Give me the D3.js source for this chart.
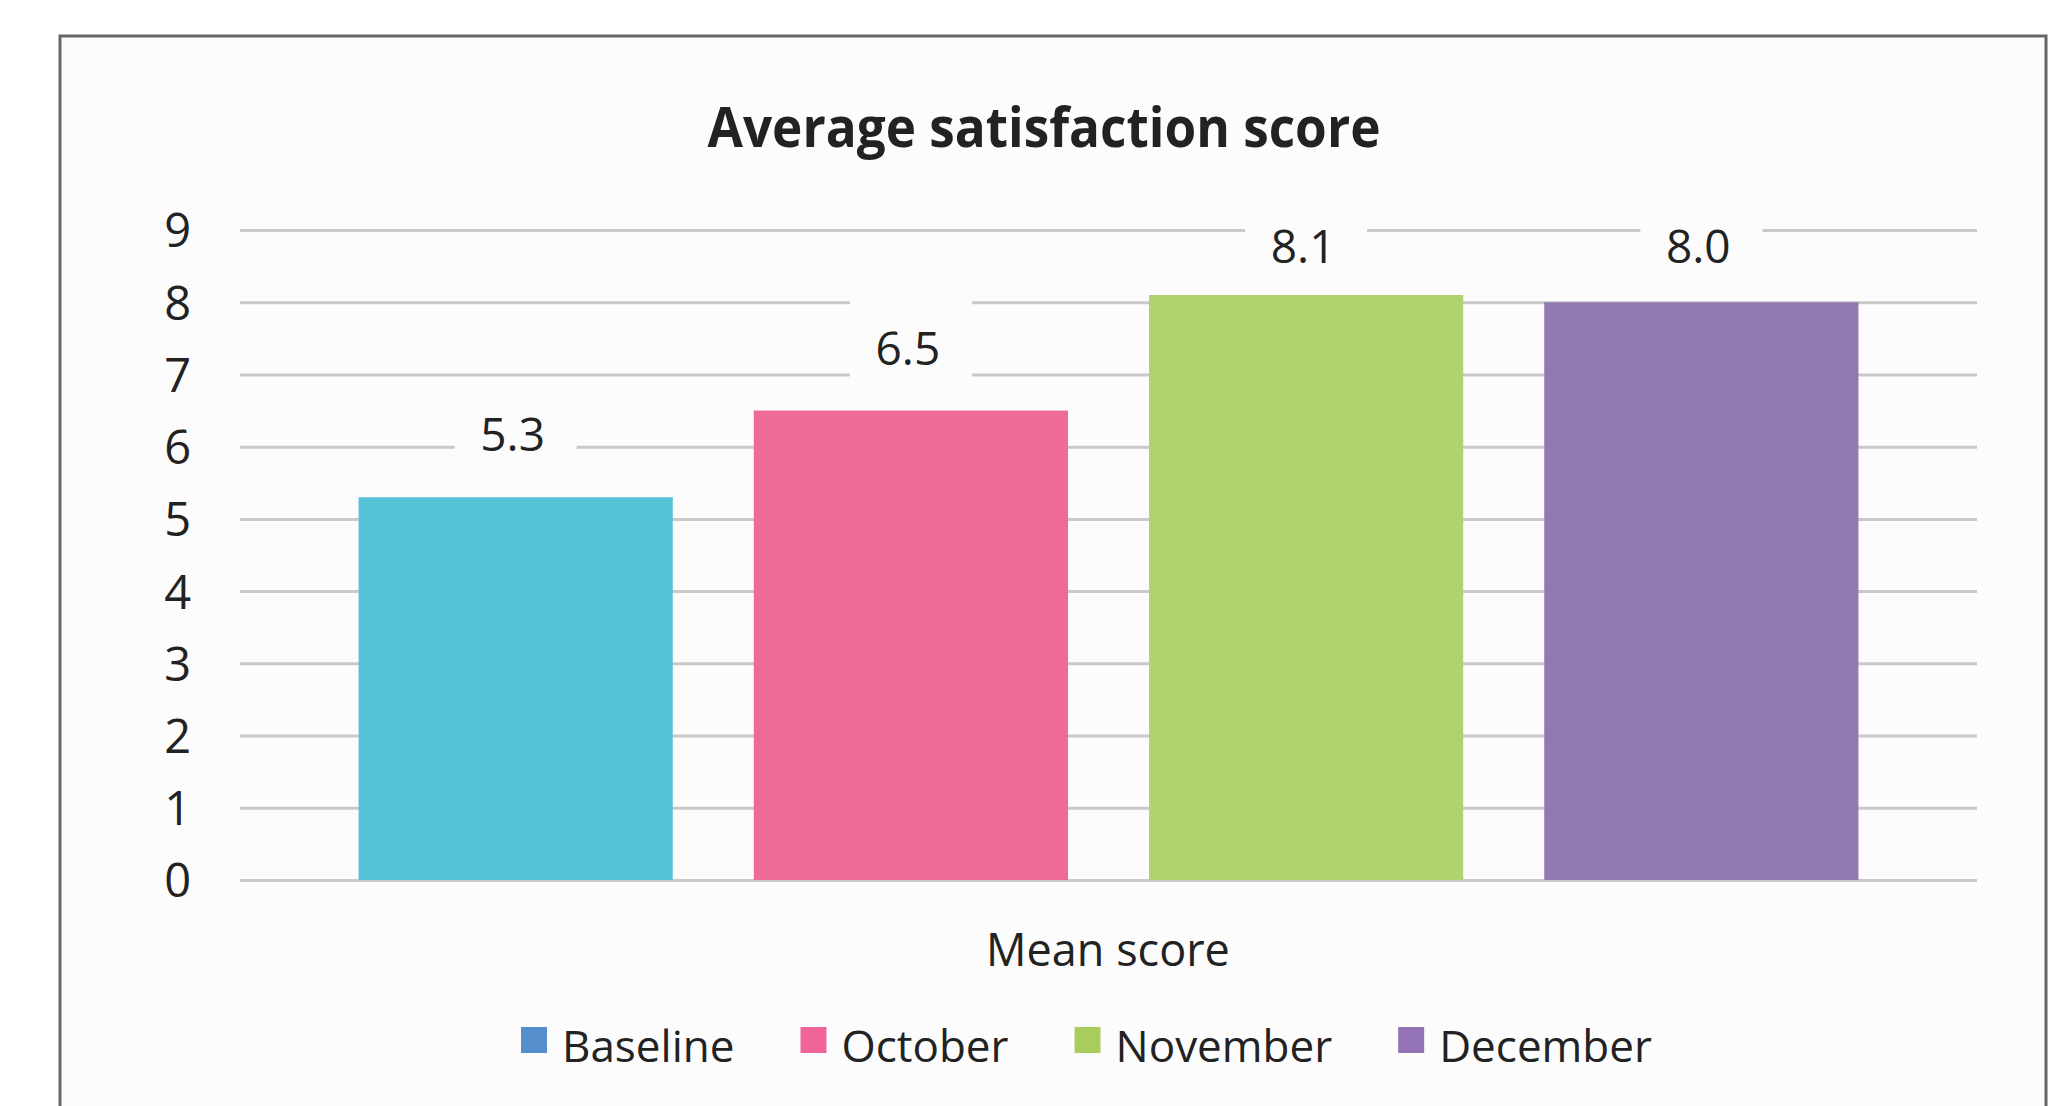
<!DOCTYPE html>
<html>
<head>
<meta charset="utf-8">
<script src="https://cdn.jsdelivr.net/npm/d3@7"></script>
<style>
  html, body { margin: 0; padding: 0; background: #ffffff; }
  svg { display: block; }
  text { font-family: "Open Sans", "Noto Sans", sans-serif; fill: #222222; }
</style>
</head>
<body>
<svg id="chart" width="2056" height="1106"></svg>
<script>
// data
var categories = ['Baseline', 'October', 'November', 'December'];
var scores = [5.3, 6.5, 8.1, 8.0];
var yTicks = [0, 1, 2, 3, 4, 5, 6, 7, 8, 9];
var barColors = ['#56c3d8', '#ee6a98', '#b1d36f', '#9279b0'];
var legendColors = ['#5690cc', '#f0649a', '#a9cc5e', '#9273b6'];

var chartTitle = 'Average satisfaction score';
var axisTitle = 'Mean score';

var bg = '#fcfcfc';

var svg = d3.select('#chart');

/**
 * Frame
 */
svg.append('rect')
  .attr('x', 60)
  .attr('y', 36)
  .attr('width', 1986)
  .attr('height', 1100)
  .attr('fill', bg)
  .attr('stroke', '#666666')
  .attr('stroke-width', 3);

var plot = { left: 240, right: 1977, top: 230, bottom: 880 };

var x = d3.scaleBand()
  .domain(categories)
  .range([plot.left, plot.right])
  .paddingInner(0.205)
  .paddingOuter(0.3);

var y = d3.scaleLinear()
  .domain([0, 9])
  .range([plot.bottom, plot.top]);

// title
svg.append('text')
  .attr('x', 1044)
  .attr('y', 147)
  .attr('text-anchor', 'middle')
  .style('font-size', '55px')
  .style('font-weight', 700)
  .attr('textLength', 673)
  .attr('lengthAdjust', 'spacingAndGlyphs')
  .text(chartTitle);

/**
 * Gridlines + y labels
 */
var yAxis = d3.axisLeft(y)
  .tickValues(yTicks)
  .tickSize(-(plot.right - plot.left))
  .tickPadding(49)
  .tickFormat(d3.format('d'));

var yAxisG = svg.append('g')
  .attr('transform', 'translate(' + plot.left + ',0)')
  .call(yAxis);

yAxisG.select('.domain').remove();
yAxisG.selectAll('.tick line')
  .attr('stroke', '#c9c9c9')
  .attr('stroke-width', 3);
yAxisG.selectAll('.tick text')
  .attr('dy', '0.36em')
  .style('font-size', '47px')
  .style('font-family', '"Open Sans", sans-serif')
  .attr('fill', '#222222');

/**
 * Bars
 */
svg.append('g')
  .selectAll('rect')
  .data(scores)
  .enter()
  .append('rect')
  .attr('x', function (d, i) { return x(categories[i]); })
  .attr('width', x.bandwidth())
  .attr('y', function (d) { return y(d); })
  .attr('height', function (d) { return y(0) - y(d); })
  .attr('fill', function (d, i) { return barColors[i]; });

// data labels, pushed down when they would leave the plot
function labelBaseline(d) {
  return Math.max(y(d) - 46, y(9) + 33);
}

var labels = svg.append('g')
  .selectAll('g')
  .data(scores)
  .enter()
  .append('g');

// label background only hides the gridlines behind it
labels.append('rect')
  .attr('x', function (d, i) { return x(categories[i]) + x.bandwidth() / 2 - 61; })
  .attr('y', function (d) { return labelBaseline(d) - 64; })
  .attr('width', 122)
  .attr('height', 88)
  .attr('fill', bg);

labels.append('text')
  .attr('x', function (d, i) { return x(categories[i]) + x.bandwidth() / 2 - 3; })
  .attr('y', labelBaseline)
  .attr('text-anchor', 'middle')
  .style('font-size', '46px')
  .text(function (d) { return d3.format('.1f')(d); });

// x axis title
svg.append('text')
  .attr('x', 1108)
  .attr('y', 966)
  .attr('text-anchor', 'middle')
  .style('font-size', '45px')
  .text(axisTitle);

/**
 * Legend
 */
var legend = svg.append('g').attr('transform', 'translate(521,0)');
var cursor = 0;

categories.forEach(function (name, i) {
  var item = legend.append('g').attr('transform', 'translate(' + cursor + ',0)');
  item.append('rect')
    .attr('x', 0)
    .attr('y', 1027)
    .attr('width', 26)
    .attr('height', 26)
    .attr('fill', legendColors[i]);
  var t = item.append('text')
    .attr('x', 41)
    .attr('y', 1062)
    .style('font-size', '44px')
    .text(name);
  cursor += 41 + t.node().getComputedTextLength() + 66;
});
</script>
</body>
</html>
